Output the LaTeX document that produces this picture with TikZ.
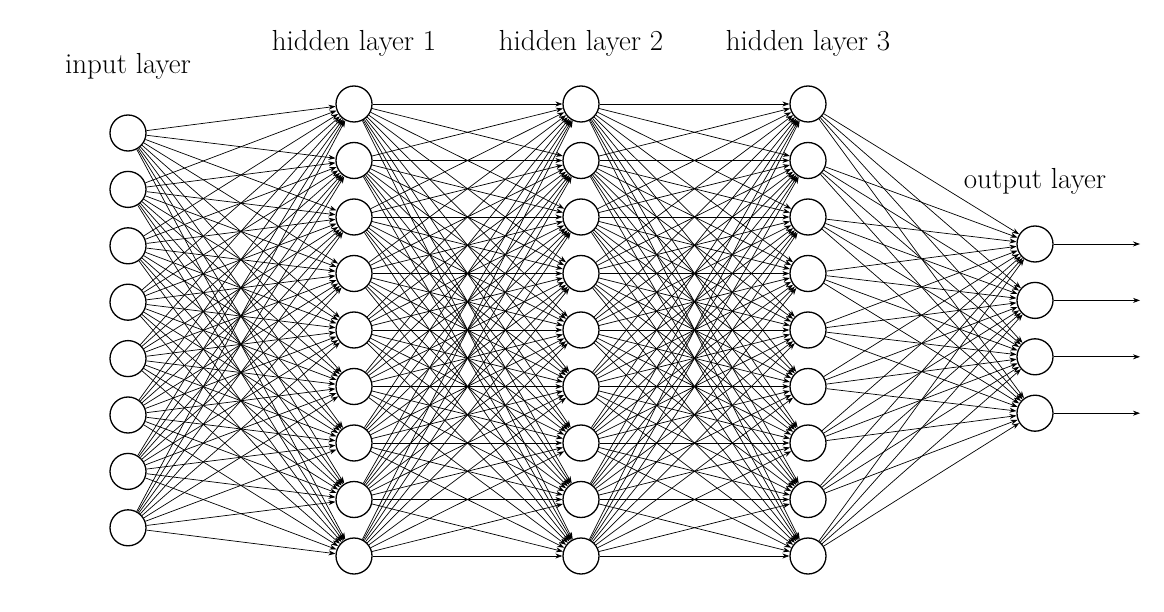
\documentclass[tikz,border=0pt]{standalone}
\usetikzlibrary{arrows.meta}
\begin{document}
\begin{tikzpicture}[x=1pt,y=-1pt,
  neuron/.style={circle,draw,line width=1.3pt,minimum size=36pt,inner sep=0pt,fill=white},
  conn/.style={line width=0.7pt,-{Stealth[length=7pt,width=5pt]}},
  lbl/.style={font=\fontsize{29}{32}\selectfont}]
\useasboundingbox (0,0) rectangle (1164,612);
\foreach \i in {1,...,8} \node[neuron] (I\i) at (128,{133+(\i-1)*56.4}) {};
\foreach \l/\x in {1/354,2/581,3/808}
  \foreach \i in {1,...,9} \node[neuron] (H\l-\i) at (\x,{104+(\i-1)*56.5}) {};
\foreach \i in {1,...,4} \node[neuron] (O\i) at (1035,{244+(\i-1)*56.4}) {};
\foreach \i in {1,...,8} \foreach \j in {1,...,9} \draw[conn] (I\i) -- (H1-\j);
\foreach \i in {1,...,9} \foreach \j in {1,...,9} {\draw[conn] (H1-\i) -- (H2-\j); \draw[conn] (H2-\i) -- (H3-\j);}
\foreach \i in {1,...,9} \foreach \j in {1,...,4} \draw[conn] (H3-\i) -- (O\j);
\foreach \i in {1,...,4} {\coordinate (E\i) at (1140,{244+(\i-1)*56.4}); \draw[conn] (O\i) -- (E\i);}
\node[lbl] (L0) at (128,66) {input layer};
\node[lbl] (L1) at (354,43) {hidden layer 1};
\node[lbl] (L2) at (581,43) {hidden layer 2};
\node[lbl] (L3) at (808,43) {hidden layer 3};
\node[lbl] (L4) at (1035,181) {output layer};
\end{tikzpicture}
\end{document}
